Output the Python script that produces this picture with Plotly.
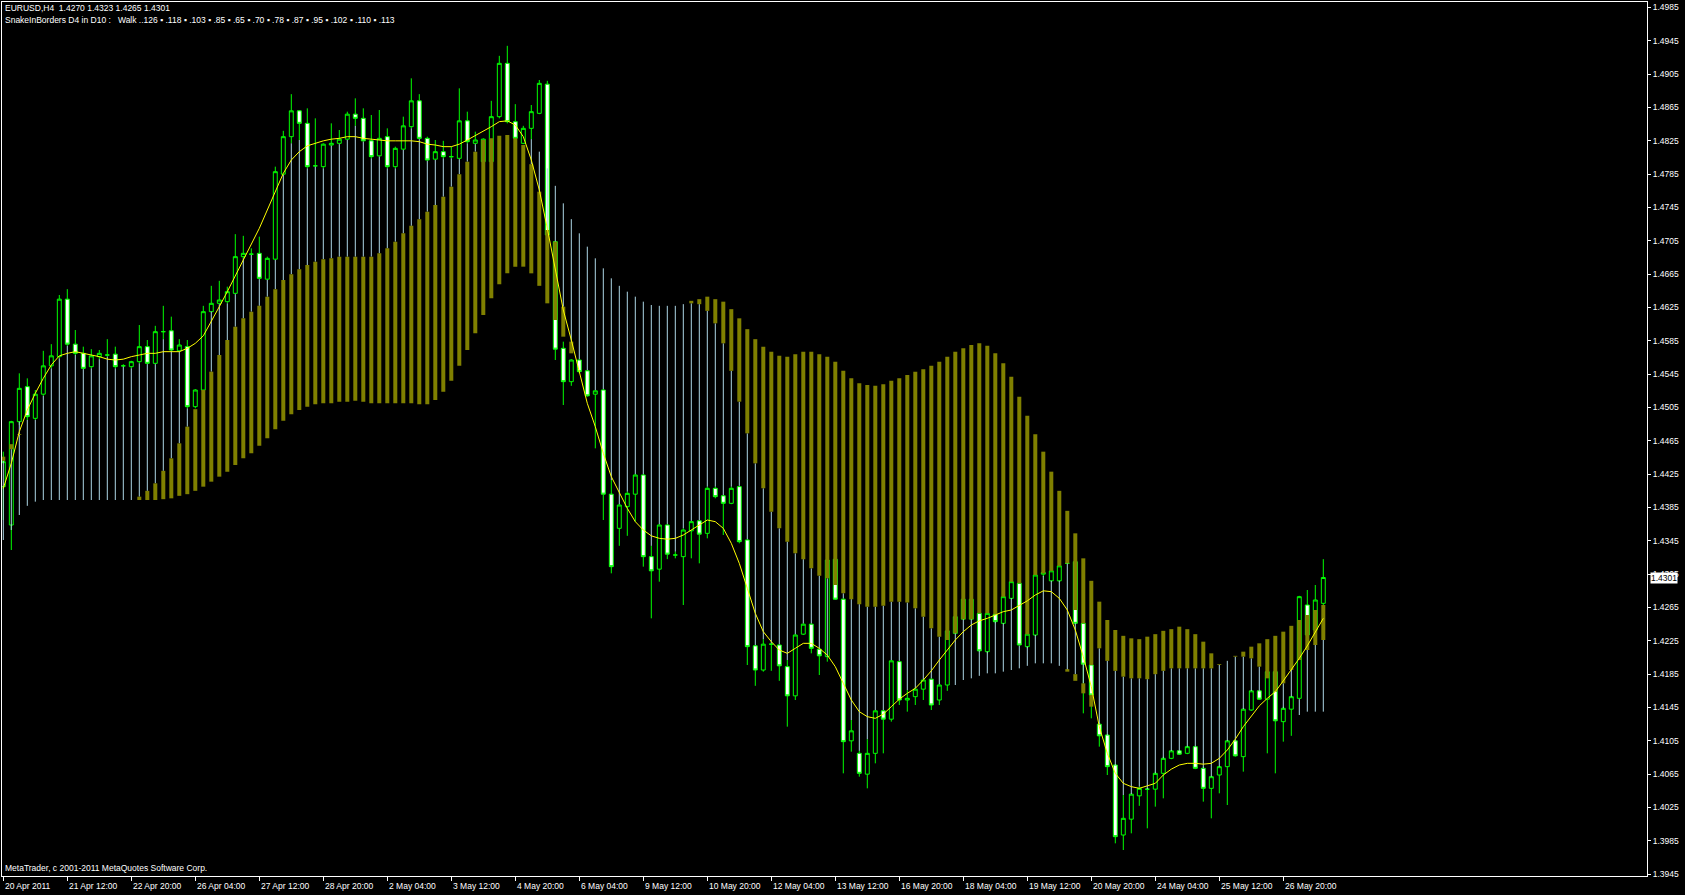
import plotly.graph_objects as go

# EURUSD H4, 20 Apr 2011 04:00 .. 27 May 2011 16:00 (bar index 0..165)
opens = [1.4410, 1.4364, 1.4488, 1.4530, 1.4492, 1.4521, 1.4555, 1.4566, 1.4635, 1.4581,
         1.4570, 1.4554, 1.4566, 1.4568, 1.4569, 1.4555, 1.4554, 1.4560, 1.4578, 1.4558,
         1.4596, 1.4597, 1.4573, 1.4578, 1.4506, 1.4526, 1.4620, 1.4630, 1.4632, 1.4642,
         1.4686, 1.4689, 1.4690, 1.4659, 1.4683, 1.4785, 1.4830, 1.4861, 1.4846, 1.4795,
         1.4794, 1.4820, 1.4822, 1.4827, 1.4857, 1.4852, 1.4825, 1.4807, 1.4830, 1.4794,
         1.4815, 1.4842, 1.4873, 1.4828, 1.4803, 1.4812, 1.4806, 1.4804, 1.4849, 1.4822,
         1.4800, 1.4800, 1.4854, 1.4918, 1.4848, 1.4822, 1.4840, 1.4858, 1.4893, 1.4704,
         1.4576, 1.4536, 1.4562, 1.4549, 1.4521, 1.4526, 1.4401, 1.4360, 1.4386, 1.4401,
         1.4424, 1.4326, 1.4311, 1.4364, 1.4328, 1.4326, 1.4357, 1.4369, 1.4354, 1.4408,
         1.4399, 1.4390, 1.4410, 1.4346, 1.4219, 1.4190, 1.4221, 1.4220, 1.4194, 1.4159,
         1.4233, 1.4245, 1.4215, 1.4206, 1.4323, 1.4275, 1.4105, 1.4090, 1.4065, 1.4090,
         1.4141, 1.4131, 1.4200, 1.4154, 1.4158, 1.4167, 1.4179, 1.4154, 1.4172, 1.4234,
         1.4251, 1.4251, 1.4258, 1.4212, 1.4257, 1.4246, 1.4276, 1.4294, 1.4218, 1.4232,
         1.4305, 1.4297, 1.4297, 1.4318, 1.4320, 1.4246, 1.4196, 1.4125, 1.4112, 1.4076,
         1.3992, 1.4011, 1.4039, 1.4047, 1.4047, 1.4066, 1.4084, 1.4093, 1.4090, 1.4098,
         1.4072, 1.4048, 1.4064, 1.4074, 1.4105, 1.4086, 1.4142, 1.4165, 1.4155, 1.4188,
         1.4128, 1.4143, 1.4156, 1.4268, 1.4238, 1.4270]
highs = [1.4452, 1.4489, 1.4546, 1.4540, 1.4526, 1.4573, 1.4581, 1.4640, 1.4647, 1.4598,
         1.4578, 1.4575, 1.4574, 1.4587, 1.4578, 1.4557, 1.4561, 1.4604, 1.4586, 1.4603,
         1.4627, 1.4614, 1.4587, 1.4586, 1.4527, 1.4627, 1.4651, 1.4657, 1.4650, 1.4713,
         1.4711, 1.4696, 1.4710, 1.4686, 1.4794, 1.4837, 1.4881, 1.4862, 1.4864, 1.4852,
         1.4822, 1.4846, 1.4838, 1.4860, 1.4876, 1.4864, 1.4856, 1.4862, 1.4840, 1.4818,
         1.4854, 1.4900, 1.4881, 1.4830, 1.4826, 1.4825, 1.4818, 1.4888, 1.4860, 1.4836,
         1.4828, 1.4873, 1.4927, 1.4939, 1.4869, 1.4843, 1.4868, 1.4898, 1.4897, 1.4705,
         1.4584, 1.4563, 1.4563, 1.4550, 1.4526, 1.4527, 1.4418, 1.4389, 1.4404, 1.4425,
         1.4425, 1.4339, 1.4365, 1.4365, 1.4332, 1.4360, 1.4369, 1.4370, 1.4410, 1.4410,
         1.4400, 1.4410, 1.4411, 1.4347, 1.4220, 1.4227, 1.4222, 1.4221, 1.4202, 1.4233,
         1.4246, 1.4246, 1.4216, 1.4323, 1.4324, 1.4276, 1.4130, 1.4093, 1.4107, 1.4142,
         1.4142, 1.4202, 1.4201, 1.4166, 1.4168, 1.4179, 1.4180, 1.4173, 1.4238, 1.4255,
         1.4276, 1.4276, 1.4259, 1.4259, 1.4258, 1.4279, 1.4297, 1.4296, 1.4234, 1.4305,
         1.4308, 1.4310, 1.4316, 1.4320, 1.4321, 1.4248, 1.4197, 1.4126, 1.4113, 1.4077,
         1.4040, 1.4042, 1.4050, 1.4048, 1.4068, 1.4086, 1.4094, 1.4094, 1.4099, 1.4099,
         1.4074, 1.4063, 1.4075, 1.4106, 1.4106, 1.4144, 1.4166, 1.4166, 1.4189, 1.4189,
         1.4146, 1.4159, 1.4279, 1.4286, 1.4292, 1.4323]
lows = [1.4370, 1.4334, 1.4484, 1.4490, 1.4490, 1.4519, 1.4552, 1.4564, 1.4579, 1.4568,
        1.4551, 1.4552, 1.4563, 1.4566, 1.4552, 1.4554, 1.4552, 1.4558, 1.4557, 1.4557,
        1.4587, 1.4573, 1.4572, 1.4504, 1.4504, 1.4525, 1.4620, 1.4629, 1.4630, 1.4641,
        1.4684, 1.4688, 1.4659, 1.4658, 1.4682, 1.4784, 1.4822, 1.4826, 1.4792, 1.4794,
        1.4792, 1.4819, 1.4821, 1.4826, 1.4843, 1.4824, 1.4804, 1.4806, 1.4792, 1.4792,
        1.4814, 1.4840, 1.4827, 1.4801, 1.4802, 1.4804, 1.4804, 1.4803, 1.4822, 1.4821,
        1.4798, 1.4798, 1.4852, 1.4846, 1.4827, 1.4821, 1.4827, 1.4857, 1.4711, 1.4562,
        1.4508, 1.4531, 1.4546, 1.4518, 1.4456, 1.4370, 1.4306, 1.4339, 1.4351, 1.4368,
        1.4314, 1.4252, 1.4296, 1.4323, 1.4324, 1.4268, 1.4324, 1.4318, 1.4348, 1.4396,
        1.4352, 1.4389, 1.4342, 1.4196, 1.4171, 1.4188, 1.4189, 1.4177, 1.4122, 1.4154,
        1.4232, 1.4210, 1.4184, 1.4200, 1.4274, 1.4066, 1.4092, 1.4062, 1.4048, 1.4078,
        1.4090, 1.4128, 1.4148, 1.4140, 1.4148, 1.4154, 1.4142, 1.4148, 1.4165, 1.4233,
        1.4250, 1.4250, 1.4212, 1.4210, 1.4246, 1.4245, 1.4275, 1.4219, 1.4216, 1.4231,
        1.4302, 1.4296, 1.4296, 1.4317, 1.4245, 1.4138, 1.4132, 1.4098, 1.4064, 1.3982,
        1.3974, 1.3994, 1.4027, 1.4000, 1.4026, 1.4036, 1.4083, 1.4088, 1.4089, 1.4071,
        1.4032, 1.4012, 1.4042, 1.4028, 1.4086, 1.4068, 1.4141, 1.4154, 1.4090, 1.4066,
        1.4104, 1.4111, 1.4155, 1.4214, 1.4226, 1.4265]
closes = [1.4440, 1.4488, 1.4528, 1.4494, 1.4521, 1.4555, 1.4567, 1.4635, 1.4581, 1.4570,
          1.4552, 1.4567, 1.4570, 1.4568, 1.4554, 1.4555, 1.4560, 1.4578, 1.4558, 1.4596,
          1.4596, 1.4574, 1.4580, 1.4506, 1.4526, 1.4620, 1.4630, 1.4634, 1.4644, 1.4686,
          1.4690, 1.4689, 1.4660, 1.4684, 1.4788, 1.4830, 1.4861, 1.4846, 1.4794, 1.4795,
          1.4821, 1.4822, 1.4827, 1.4857, 1.4852, 1.4825, 1.4806, 1.4828, 1.4794, 1.4816,
          1.4843, 1.4873, 1.4828, 1.4802, 1.4812, 1.4806, 1.4806, 1.4849, 1.4824, 1.4826,
          1.4827, 1.4854, 1.4918, 1.4848, 1.4828, 1.4840, 1.4860, 1.4894, 1.4712, 1.4575,
          1.4536, 1.4562, 1.4548, 1.4519, 1.4525, 1.4401, 1.4314, 1.4388, 1.4402, 1.4424,
          1.4326, 1.4309, 1.4364, 1.4329, 1.4328, 1.4358, 1.4368, 1.4353, 1.4408, 1.4398,
          1.4390, 1.4408, 1.4344, 1.4218, 1.4190, 1.4221, 1.4221, 1.4195, 1.4159, 1.4232,
          1.4245, 1.4216, 1.4207, 1.4322, 1.4275, 1.4104, 1.4117, 1.4066, 1.4090, 1.4141,
          1.4131, 1.4201, 1.4154, 1.4156, 1.4167, 1.4178, 1.4148, 1.4172, 1.4237, 1.4254,
          1.4275, 1.4275, 1.4213, 1.4258, 1.4248, 1.4278, 1.4296, 1.4220, 1.4233, 1.4304,
          1.4307, 1.4309, 1.4315, 1.4318, 1.4246, 1.4197, 1.4160, 1.4111, 1.4074, 1.3990,
          1.4012, 1.4041, 1.4048, 1.4047, 1.4066, 1.4084, 1.4093, 1.4089, 1.4098, 1.4072,
          1.4048, 1.4062, 1.4074, 1.4105, 1.4087, 1.4143, 1.4165, 1.4155, 1.4188, 1.4129,
          1.4144, 1.4158, 1.4278, 1.4232, 1.4274, 1.4301]

# SnakeInBorders: snake line
snake = [1.4408, 1.4438, 1.4476, 1.4502, 1.4522, 1.4540, 1.4556, 1.4567, 1.4570, 1.4572,
         1.4570, 1.4568, 1.4566, 1.4563, 1.4562, 1.4563, 1.4566, 1.4568, 1.4570, 1.4570,
         1.4572, 1.4572, 1.4572, 1.4576, 1.4582, 1.4591, 1.4608, 1.4626, 1.4644, 1.4663,
         1.4682, 1.4700, 1.4720, 1.4742, 1.4764, 1.4786, 1.4802, 1.4812, 1.4819, 1.4822,
         1.4825, 1.4827, 1.4828, 1.4830, 1.4830, 1.4828, 1.4827, 1.4826, 1.4825, 1.4825,
         1.4825, 1.4825, 1.4824, 1.4821, 1.4820, 1.4818, 1.4818, 1.4821, 1.4826, 1.4831,
         1.4836, 1.4842, 1.4848, 1.4849, 1.4844, 1.4830, 1.4802, 1.4766, 1.4720, 1.4672,
         1.4622, 1.4586, 1.4548, 1.4510, 1.4482, 1.4450, 1.4422, 1.4402, 1.4384, 1.4368,
         1.4358, 1.4351, 1.4348, 1.4347, 1.4348, 1.4352, 1.4358, 1.4364, 1.4370, 1.4368,
         1.4360, 1.4342, 1.4318, 1.4288, 1.4258, 1.4236, 1.4224, 1.4214, 1.4210, 1.4216,
         1.4222, 1.4222, 1.4216, 1.4208, 1.4194, 1.4174, 1.4154, 1.4140, 1.4134, 1.4132,
         1.4137, 1.4146, 1.4155, 1.4162, 1.4168, 1.4178, 1.4189, 1.4202, 1.4214, 1.4226,
         1.4236, 1.4244, 1.4249, 1.4252, 1.4256, 1.4260, 1.4262, 1.4267, 1.4273, 1.4280,
         1.4285, 1.4284, 1.4276, 1.4262, 1.4238, 1.4206, 1.4170, 1.4122, 1.4090, 1.4066,
         1.4054, 1.4050, 1.4048, 1.4051, 1.4054, 1.4064, 1.4071, 1.4076, 1.4078, 1.4078,
         1.4077, 1.4078, 1.4084, 1.4094, 1.4107, 1.4122, 1.4135, 1.4147, 1.4156, 1.4164,
         1.4177, 1.4190, 1.4204, 1.4219, 1.4236, 1.4252]

# light blue histogram (upper / lower end), None = not drawn
walk_hi = [1.4441, 1.4455, 1.4488, 1.4490, 1.4490, 1.4519, 1.4552, 1.4564, 1.4579, 1.4568,
           1.4551, 1.4552, 1.4563, 1.4566, 1.4552, 1.4554, 1.4552, 1.4558, 1.4557, 1.4557,
           1.4587, 1.4573, 1.4572, 1.4504, None, None, 1.4620, 1.4629, 1.4630, 1.4641,
           1.4684, 1.4688, 1.4659, 1.4658, 1.4682, 1.4784, 1.4822, 1.4826, 1.4792, 1.4794,
           1.4792, 1.4819, 1.4821, 1.4826, 1.4843, 1.4824, 1.4804, 1.4806, 1.4792, 1.4792,
           1.4814, 1.4840, 1.4827, 1.4801, 1.4802, 1.4804, 1.4804, 1.4803, 1.4822, 1.4821,
           None, None, None, None, None, None, 1.4827, 1.4812, 1.4792, 1.4771,
           1.4750, 1.4731, 1.4714, 1.4698, 1.4684, 1.4672, 1.4660, 1.4651, 1.4644, 1.4638,
           1.4632, 1.4628, 1.4627, 1.4627, 1.4627, 1.4629, 1.4630, 1.4629, 1.4621, 1.4606,
           1.4582, 1.4549, 1.4512, 1.4474, 1.4438, 1.4408, 1.4380, 1.4360, 1.4344, 1.4330,
           1.4323, 1.4312, 1.4303, 1.4300, None, 1.4282, 1.4275, 1.4269, 1.4266, 1.4266,
           1.4267, 1.4272, 1.4272, 1.4271, 1.4264, 1.4254, 1.4240, 1.4230, None, 1.4234,
           1.4251, 1.4251, 1.4213, 1.4212, 1.4248, 1.4246, 1.4276, 1.4219, 1.4218, 1.4232,
           1.4303, 1.4297, 1.4297, 1.4318, 1.4246, 1.4197, None, 1.4216, 1.4201, 1.4189,
           1.4182, 1.4180, 1.4180, 1.4179, 1.4185, 1.4189, 1.4192, 1.4192, 1.4192, 1.4192,
           1.4192, 1.4192, 1.4196, 1.4201, 1.4206, 1.4206, 1.4204, 1.4194, None, None,
           1.4174, 1.4190, 1.4155, 1.4214, 1.4220, 1.4226]
walk_lo = [1.4346, 1.4358, 1.4376, 1.4387, 1.4392, 1.4394, 1.4394, 1.4394, 1.4394, 1.4394,
           1.4394, 1.4394, 1.4394, 1.4394, 1.4394, 1.4394, 1.4394, 1.4398, 1.4405, 1.4414,
           1.4429, 1.4444, 1.4462, 1.4482, None, None, 1.4548, 1.4568, 1.4586, 1.4602,
           1.4612, 1.4620, 1.4627, 1.4638, 1.4647, 1.4658, 1.4665, 1.4671, 1.4676, 1.4680,
           1.4683, 1.4684, 1.4686, 1.4686, 1.4686, 1.4686, 1.4686, 1.4690, 1.4696, 1.4704,
           1.4714, 1.4723, 1.4731, 1.4740, 1.4748, 1.4758, 1.4770, 1.4785, 1.4800, 1.4812,
           None, None, None, None, None, None, 1.4797, 1.4764, 1.4718, 1.4704,
           1.4626, 1.4584, 1.4563, 1.4550, 1.4526, 1.4527, 1.4418, 1.4389, 1.4404, 1.4425,
           1.4425, 1.4339, 1.4365, 1.4365, 1.4332, 1.4360, 1.4369, 1.4370, 1.4410, 1.4410,
           1.4400, 1.4410, 1.4411, 1.4347, 1.4220, 1.4227, 1.4222, 1.4221, 1.4202, 1.4233,
           1.4246, 1.4246, 1.4216, 1.4206, None, 1.4276, 1.4130, 1.4093, 1.4107, 1.4142,
           1.4142, 1.4202, 1.4201, 1.4166, 1.4168, 1.4179, 1.4180, 1.4173, None, 1.4172,
           1.4178, 1.4180, 1.4183, 1.4186, 1.4186, 1.4188, 1.4190, 1.4192, 1.4195, 1.4198,
           1.4198, 1.4198, 1.4195, 1.4190, 1.4185, 1.4174, None, 1.4125, 1.4112, 1.4076,
           1.4040, 1.4041, 1.4050, 1.4047, 1.4066, 1.4084, 1.4093, 1.4093, 1.4098, 1.4098,
           1.4072, 1.4062, 1.4074, 1.4105, 1.4105, 1.4143, 1.4165, 1.4165, None, None,
           1.4144, 1.4158, 1.4136, 1.4140, 1.4140, 1.4140]

# olive histogram (upper / lower end)
band_hi = [None] * 17 + [
    1.4398, 1.4405, 1.4414, 1.4429, 1.4444, 1.4462, 1.4482, 1.4503, 1.4526, 1.4548,
    1.4568, 1.4586, 1.4602, 1.4612, 1.4620, 1.4627, 1.4638, 1.4647, 1.4658, 1.4665,
    1.4671, 1.4676, 1.4680, 1.4683, 1.4684, 1.4686, 1.4686, 1.4686, 1.4686, 1.4686,
    1.4690, 1.4696, 1.4704, 1.4714, 1.4723, 1.4731, 1.4740, 1.4748, 1.4758, 1.4770,
    1.4785, 1.4800, 1.4812, 1.4826, 1.4828, 1.4831, 1.4832, 1.4828, 1.4820, 1.4797,
    1.4764, 1.4718, 1.4704, 1.4626, 1.4584] + [None] * 14 + [
    1.4633, 1.4635, 1.4638, 1.4635, 1.4632, 1.4623, 1.4612, 1.4599, 1.4587, 1.4578,
    1.4572, 1.4567, 1.4566, 1.4569, 1.4572, 1.4572, 1.4569, 1.4566, 1.4560, 1.4549,
    1.4540, 1.4534, 1.4532, 1.4531, 1.4533, 1.4537, 1.4540, 1.4544, 1.4548, 1.4551,
    1.4555, 1.4560, 1.4566, 1.4572, 1.4576, 1.4580, 1.4582, 1.4579, 1.4570, 1.4558,
    1.4542, 1.4518, 1.4495, 1.4473, 1.4452, 1.4428, 1.4405, 1.4381, 1.4354, 1.4324,
    1.4297, 1.4272, 1.4250, 1.4238, 1.4231, 1.4228, 1.4227, 1.4230, 1.4233, 1.4237,
    1.4239, 1.4242, 1.4239, 1.4233, 1.4224, 1.4210, 1.4197, None, 1.4207, 1.4212,
    1.4218, 1.4222, 1.4227, 1.4231, 1.4236, 1.4243, 1.4250, 1.4256, 1.4262, 1.4268]
band_lo = [None] * 17 + [
    1.4394, 1.4394, 1.4394, 1.4395, 1.4396, 1.4399, 1.4401, 1.4405, 1.4410, 1.4416,
    1.4422, 1.4428, 1.4436, 1.4444, 1.4450, 1.4459, 1.4468, 1.4479, 1.4489, 1.4497,
    1.4502, 1.4506, 1.4509, 1.4510, 1.4510, 1.4512, 1.4512, 1.4513, 1.4512, 1.4510,
    1.4510, 1.4510, 1.4510, 1.4510, 1.4510, 1.4509, 1.4509, 1.4514, 1.4524, 1.4537,
    1.4555, 1.4574, 1.4594, 1.4616, 1.4636, 1.4653, 1.4666, 1.4674, 1.4674, 1.4666,
    1.4651, 1.4630, 1.4610, 1.4590, 1.4570] + [None] * 14 + [
    1.4630, 1.4629, 1.4621, 1.4606, 1.4582, 1.4549, 1.4512, 1.4474, 1.4438, 1.4408,
    1.4380, 1.4360, 1.4344, 1.4330, 1.4323, 1.4312, 1.4303, 1.4300, 1.4292, 1.4282,
    1.4275, 1.4269, 1.4266, 1.4266, 1.4267, 1.4272, 1.4272, 1.4271, 1.4264, 1.4254,
    1.4240, 1.4230, 1.4226, 1.4234, 1.4251, 1.4251, 1.4258, 1.4258, 1.4257, 1.4278,
    1.4296, 1.4294, 1.4233, 1.4304, 1.4306, 1.4309, 1.4315, 1.4318, 1.4262, 1.4246,
    1.4196, 1.4216, 1.4201, 1.4189, 1.4182, 1.4180, 1.4180, 1.4179, 1.4185, 1.4189,
    1.4192, 1.4192, 1.4192, 1.4192, 1.4192, 1.4192, 1.4196, None, 1.4206, 1.4206,
    1.4204, 1.4194, 1.4180, 1.4164, 1.4174, 1.4190, 1.4202, 1.4214, 1.4220, 1.4226]

# short olive pieces below / above the light blue column
tail_bars = [0, 1, 2, 133, 134, 135, 136]
tail_hi = [1.4446, 1.4461, 1.4473, 1.4191, 1.4185, 1.4174, 1.4160]
tail_lo = [1.4441, 1.4455, 1.4472, 1.4188, 1.4177, 1.4162, 1.4146]

time_labels = ["20 Apr 2011", "21 Apr 12:00", "22 Apr 20:00", "26 Apr 04:00", "27 Apr 12:00",
               "28 Apr 20:00", "2 May 04:00", "3 May 12:00", "4 May 20:00", "6 May 04:00",
               "9 May 12:00", "10 May 20:00", "12 May 04:00", "13 May 12:00", "16 May 20:00",
               "18 May 04:00", "19 May 12:00", "20 May 20:00", "24 May 04:00", "25 May 12:00",
               "26 May 20:00"]
time_bars = [0, 8, 16, 24, 32, 40, 48, 56, 64, 72, 80, 88, 96, 104, 112, 120, 128, 136, 144, 152, 160]
price_ticks = [1.3945, 1.3985, 1.4025, 1.4065, 1.4105, 1.4145, 1.4185, 1.4225, 1.4265,
               1.4305, 1.4345, 1.4385, 1.4425, 1.4465, 1.4505, 1.4545, 1.4585, 1.4625,
               1.4665, 1.4705, 1.4745, 1.4785, 1.4825, 1.4865, 1.4905, 1.4945, 1.4985]
last_price = 1.4301

FONT = "Liberation Sans, Arial, sans-serif"
FS = 8.5
bars = list(range(len(opens)))


def segments(xs_in, hi, lo):
    xs, ys = [], []
    for x, a, b in zip(xs_in, hi, lo):
        if a is None or b is None:
            continue
        xs += [x, x, None]
        ys += [b, a, None]
    return xs, ys


fig = go.Figure()
fig.add_trace(go.Candlestick(
    x=bars, open=opens, high=highs, low=lows, close=closes,
    increasing=dict(line=dict(color="#00FF00", width=1), fillcolor="black"),
    decreasing=dict(line=dict(color="#00FF00", width=1), fillcolor="white"),
    whiskerwidth=0, hoverinfo="skip"))

wx, wy = segments(bars, walk_hi, walk_lo)
fig.add_trace(go.Scatter(x=wx, y=wy, mode="lines", line=dict(color="#ADD8E6", width=1), hoverinfo="skip"))
bx, by = segments(bars, band_hi, band_lo)
fig.add_trace(go.Scatter(x=bx, y=by, mode="lines", line=dict(color="#808000", width=4), hoverinfo="skip"))
tx, ty = segments(tail_bars, tail_hi, tail_lo)
fig.add_trace(go.Scatter(x=tx, y=ty, mode="lines", line=dict(color="#808000", width=4), hoverinfo="skip"))
fig.add_trace(go.Scatter(x=bars, y=snake, mode="lines", line=dict(color="#FFFF00", width=1), hoverinfo="skip"))

ann = [
    dict(x=0, y=1, xref="paper", yref="paper", xanchor="left", yanchor="top", xshift=1, yshift=1,
         text="EURUSD,H4  1.4270 1.4323 1.4265 1.4301", showarrow=False,
         font=dict(family=FONT, size=FS, color="white")),
    dict(x=0, y=1, xref="paper", yref="paper", xanchor="left", yanchor="top", xshift=1, yshift=-11,
         text="SnakeInBorders D4 in D10 :   Walk ..126 ▪ .118 ▪ .103 ▪ .85 ▪ .65 ▪ .70 ▪ .78 ▪ .87 ▪ .95 ▪ .102 ▪ .110 ▪ .113",
         showarrow=False, font=dict(family=FONT, size=FS, color="white")),
    dict(x=0, y=0, xref="paper", yref="paper", xanchor="left", yanchor="bottom", xshift=1, yshift=1,
         text="MetaTrader, c 2001-2011 MetaQuotes Software Corp.", showarrow=False,
         font=dict(family=FONT, size=FS, color="white")),
    dict(x=1, y=last_price, xref="paper", yref="y", xanchor="left", yanchor="middle", xshift=3,
         text="%.4f" % last_price, showarrow=False, bgcolor="white", borderpad=0,
         font=dict(family=FONT, size=FS, color="black")),
]
for b, t in zip(time_bars, time_labels):
    ann.append(dict(x=b, y=0, xref="x", yref="paper", xanchor="left", yanchor="top", xshift=0, yshift=-3,
                    text=t, showarrow=False, font=dict(family=FONT, size=FS, color="white")))

fig.update_layout(
    width=1685, height=895, margin=dict(l=2, r=38, t=2, b=19),
    paper_bgcolor="black", plot_bgcolor="black", showlegend=False,
    annotations=ann,
    xaxis=dict(range=[-0.1625, 205.4625], rangeslider=dict(visible=False), showgrid=False, zeroline=False,
               automargin=False,
               tickvals=time_bars, ticks="outside", ticklen=4, tickcolor="white", showticklabels=False,
               showline=True, linecolor="white", linewidth=1, mirror=True),
    yaxis=dict(range=[1.39428, 1.49916], side="right", showgrid=False, zeroline=False,
               automargin=False,
               tickvals=price_ticks, ticktext=["%.4f" % p for p in price_ticks],
               ticks="outside", ticklen=3, tickcolor="white",
               tickfont=dict(family=FONT, size=FS, color="white"),
               showline=True, linecolor="white", linewidth=1, mirror=True),
)

# the page's default body margin would push the chart off the window
fig.write_html("out.html", config={"displayModeBar": False},
               post_script="document.body.style.margin='0';document.body.style.background='black';")
